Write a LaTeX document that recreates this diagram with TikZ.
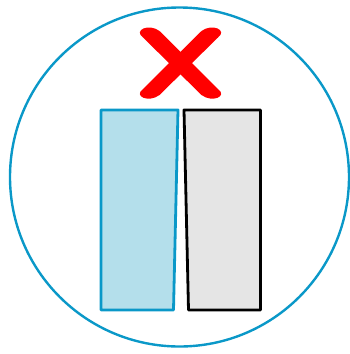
\documentclass[tikz,border=0pt]{standalone}
\definecolor{cblue}{RGB}{10,152,200}
\definecolor{lblue}{RGB}{180,223,235}
\definecolor{lgrey}{RGB}{229,229,229}
\begin{document}
\begin{tikzpicture}[x=1pt,y=-1pt,
  ring/.style={draw=cblue,line width=2.4pt},
  bluepanel/.style={draw=cblue,fill=lblue,line width=2.8pt,line join=round},
  greypanel/.style={draw=black,fill=lgrey,line width=2.8pt,line join=round},
  cross/.style={fill=red,draw=none}]
\useasboundingbox (0,0) rectangle (350,354);
\draw[ring] (179.5,177) circle (169.5);
\draw[bluepanel] (101,110) -- (178,110) -- (173.5,310) -- (101,310) -- cycle;
\draw[greypanel] (184,110) -- (260.5,110) -- (260.5,310) -- (188.5,310) -- cycle;
\path[cross] (143,37.5) .. controls (133,30) and (149,23) .. (159.5,31) -- (218,89) .. controls (228,96.5) and (212,103) .. (201.5,95) -- cycle;
\path[cross] (218,37.5) .. controls (228,30) and (212,23) .. (201.5,31) -- (143,89) .. controls (133,96.5) and (149,103) .. (159.5,95) -- cycle;
\end{tikzpicture}
\end{document}
